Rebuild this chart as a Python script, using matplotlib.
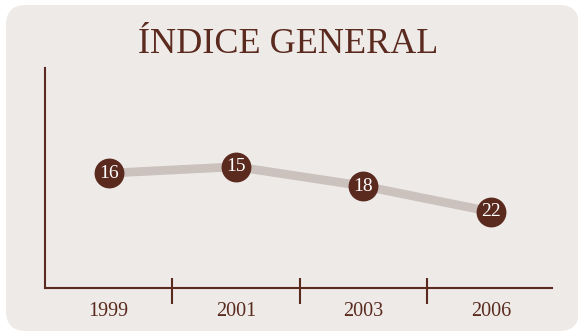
import matplotlib.pyplot as plt
from matplotlib.patches import FancyBboxPatch
from matplotlib.transforms import blended_transform_factory

# ----------------------------------------------------------------------
# data
# ----------------------------------------------------------------------
years = ['1999', '2001', '2003', '2006']
index_values = [16, 15, 18, 22]
title = 'ÍNDICE GENERAL'

brown = '#5b2a1f'
panel_color = '#edeae7'
line_color = '#cbc1bd'
serif = ['Liberation Serif', 'DejaVu Serif']

fig = plt.figure(figsize=(5.78, 3.33), dpi=100)
fig.patch.set_facecolor('white')

# rounded background panel, drawn in pixel-like units
bg = fig.add_axes([0, 0, 1, 1], zorder=-1)
bg.set_xlim(0, 578)
bg.set_ylim(333, 0)
bg.axis('off')
bg.add_patch(FancyBboxPatch((6, 5), 573, 326,
                            boxstyle='round,pad=0,rounding_size=20',
                            facecolor=panel_color, edgecolor='none'))

fig.text(0.499, 0.84, title, ha='center', va='baseline',
         fontsize=26, color=brown, family=serif)

ax = fig.add_axes([0.078, 0.135, 0.877, 0.661])
ax.set_facecolor('none')

pos = list(range(len(years)))
ax.plot(pos, index_values, color=line_color, lw=6.3, solid_capstyle='butt',
        zorder=2)
ax.plot(pos, index_values, 'o', ms=21.5, color=brown, mec='none', zorder=3)
for x, v in zip(pos, index_values):
    ax.text(x, v, str(v), ha='center', va='center', color='white',
            fontsize=14, family=serif, zorder=4)

ax.set_xlim(-0.5, 3.48)
ax.set_ylim(33.9, -0.4)

for side in ['top', 'right']:
    ax.spines[side].set_visible(False)
for side in ['left', 'bottom']:
    ax.spines[side].set_color(brown)
    ax.spines[side].set_linewidth(1.5)

ax.set_yticks([])
ax.set_xticks(pos)
ax.set_xticklabels(years, fontsize=14.5, color=brown, family=serif)
ax.tick_params(axis='x', length=0, pad=10)

# separators between the years, crossing the axis line
trans = blended_transform_factory(ax.transData, ax.transAxes)
ax.vlines([p + 0.5 for p in pos[:-1]], -0.073, 0.045, color=brown, lw=1.5,
          transform=trans, clip_on=False)

fig.savefig('out.png', dpi=100)
